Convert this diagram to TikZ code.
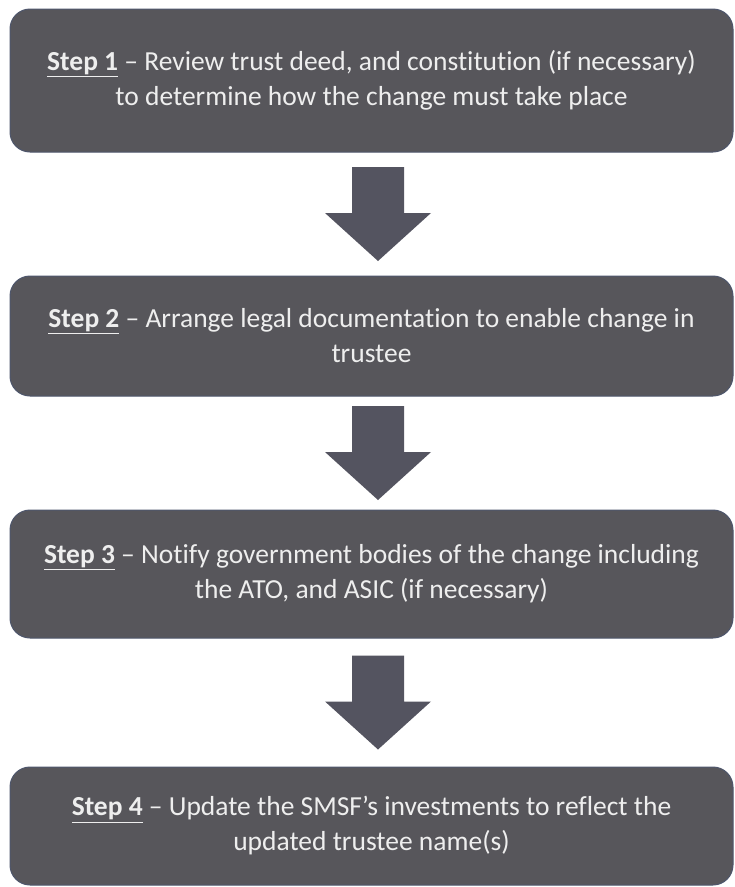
\documentclass[tikz,border=0pt]{standalone}
\usepackage{fontspec}
\setmainfont{Carlito}[Ligatures=NoCommon]
\usepackage{tikz}
\usetikzlibrary{calc,positioning}
\definecolor{boxgrey}{RGB}{87,86,91}
\definecolor{boxedge}{RGB}{78,86,108}
\definecolor{arrowgrey}{RGB}{84,84,96}
\definecolor{paletext}{RGB}{238,238,238}
\newcommand{\stepname}[1]{\underline{\textbf{#1}}}
\tikzset{
  stepbox/.style={draw=boxedge,line width=1pt,rounded corners=20pt,fill=boxgrey,minimum width=723pt,align=center,text=paletext,font=\fontsize{27.5}{35}\selectfont,inner sep=0pt},
  blockarrow/.style={fill=arrowgrey}
}

\begin{document}
\begin{tikzpicture}[x=1pt,y=-1pt]
\useasboundingbox[fill=white] (0,0) rectangle (735,887);
\node[stepbox,minimum height=143pt] (step1) at (371.5,80.5) {\stepname{Step 1} -- Review trust deed, and constitution (if necessary)\\to determine how the change must take place};
\node[stepbox,minimum height=120pt] (step2) at (371.5,336) {\stepname{Step 2} -- Arrange legal documentation to enable change in\\trustee};
\node[stepbox,minimum height=128pt] (step3) at (371.5,574) {\stepname{Step 3} -- Notify government bodies of the change including\\the ATO, and ASIC (if necessary)};
\node[stepbox,minimum height=118pt] (step4) at (371.5,826) {\stepname{Step 4} -- Update the SMSF's investments to reflect the\\updated trustee name(s)};
\foreach \a/\b in {step1/step2,step2/step3,step3/step4}{
  \coordinate (mid) at ($(\a.south)!0.5!(\b.north)+(6.5,0)$);
  \fill[blockarrow] ($(mid)+(-26,-47)$) -- ($(mid)+(26,-47)$) -- ($(mid)+(26,-1)$) -- ($(mid)+(53,-1)$)
    -- ($(mid)+(0,47)$) -- ($(mid)+(-53,-1)$) -- ($(mid)+(-26,-1)$) -- cycle;
}
\end{tikzpicture}
\end{document}
